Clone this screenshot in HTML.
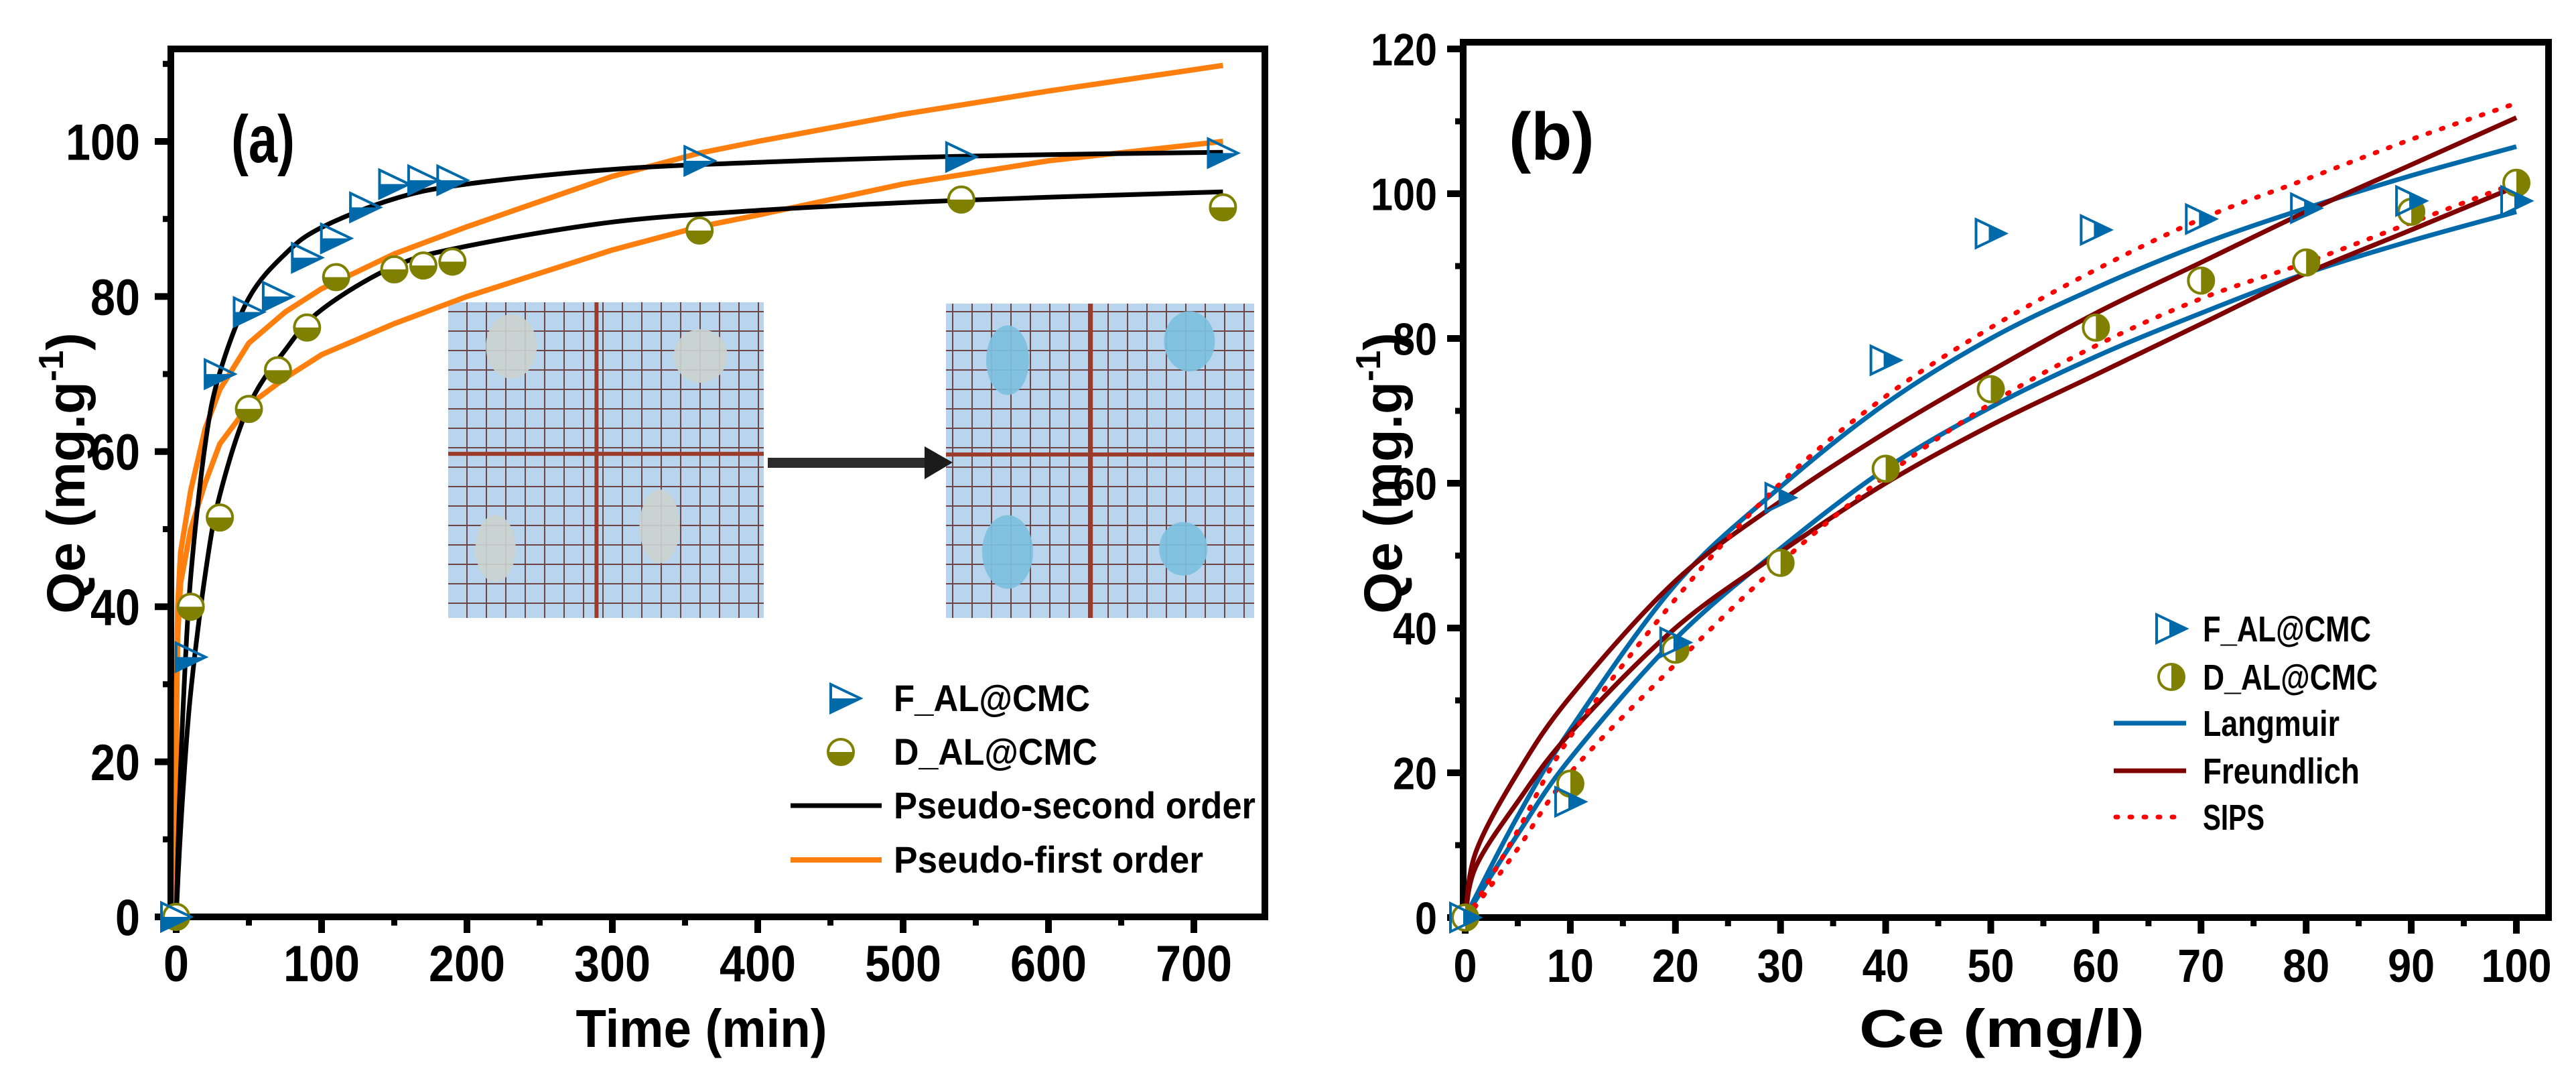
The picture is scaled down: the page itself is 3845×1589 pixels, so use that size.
<!DOCTYPE html>
<html><head><meta charset="utf-8"><style>
html,body{margin:0;padding:0;background:#fff;}
svg{display:block;}
text{font-family:"Liberation Sans",sans-serif;font-weight:bold;fill:#000;}
</style></head><body>
<svg id="fig" width="3845" height="1589" viewBox="0 0 3845 1589" xmlns="http://www.w3.org/2000/svg">
<defs>
<pattern id="grid" width="29" height="29" patternUnits="userSpaceOnUse">
<rect width="29" height="29" fill="#b9d5ee"/>
<path d="M0 0.5H29M0.5 0V29" stroke="#6e4444" stroke-width="3" fill="none"/>
</pattern>
</defs>
<g id="pa"></g>
<g id="pb"></g>
</svg>
<script>
// ---------- Panel (a) data ----------
const timeF = [0,10,30,50,70,90,110,130,150,170,190,360,540,720];
const qeF = [0,33.5,70,78,80,85,87.5,91.5,94.5,95,95,97.5,98,98.5];
const timeD = [0,10,30,50,70,90,110,150,170,190,360,540,720];
const qeD = [0,40,51.5,65.5,70.5,76,82.5,83.5,84,84.5,88.5,92.5,91.5];
const fitTime = [0,2,5,10,20,30,50,75,100,150,200,300,400,500,600,720];
const psoF = [0,13.4,28,43.9,61,70.2,79.8,85.5,88.9,92.6,94.5,96.4,97.3,97.9,98.3,98.6];
const psoD = [0,7.7,17.1,29,44.2,54.4,65.9,73.1,78.3,83.9,86.5,89.6,91.1,92.1,92.8,93.5];
const pfoTime = [0,0.3,1,3,10,20,30,50,75,100,150,200,300,360,400,500,600,720];
const pfoF = [0,30,40,47,55,63,68,74,78,81,85.5,89,95.5,98.5,100,103.5,106.5,109.8];
const pfoD = [0,27,36,43,50,56,61,66,69.5,72.5,76.5,80,86,89,90.5,94.5,97.5,100];
const ticksAX = [0,100,200,300,400,500,600,700];
const ticksAY = [0,20,40,60,80,100];
// ---------- Panel (b) data ----------
const ceF = [0,10,20,30,40,50,60,70,80,90,100];
const qbF = [0,16,38,58,77,94.5,95,96.5,98,99,99];
const ceD = [0,10,20,30,40,50,60,70,80,90,100];
const qbD = [0,18.5,37,49,62,73,81.5,88,90.5,97.5,101.5];
const fitCe = [0,1,5,10,20,30,40,50,60,70,80,90,100];
const langF = [0,2.9,14,26,46,59.5,71,80,87,93,98,102.5,106.5];
const langD = [0,2.4,11.5,22,38.5,51,62,70.5,77.5,83.5,89,93.5,97.5];
const freuF = [0,9,20,30.5,46.5,57.5,67,75.5,83.5,90.5,97.5,104,110.5];
const freuD = [0,7,16,25.5,40,50.5,60,68,75,82,89,95,101];
const sipsF = [0,2,12,25,44,60,72,81.5,89.5,96.5,102,107.5,112.5];
const sipsD = [0,1.6,9.5,20,35,49,61,71,79,85.5,90.5,96,101.5];
const ticksBX = [0,10,20,30,40,50,60,70,80,90,100];
const ticksBY = [0,20,40,60,80,100,120];

const NS="http://www.w3.org/2000/svg";
function mk(tag,attrs,parent){const e=document.createElementNS(NS,tag);for(const k in attrs)e.setAttribute(k,attrs[k]);parent.appendChild(e);return e;}
function pathD(xs,ys,sx,sy){let d='';for(let i=0;i<xs.length;i++){d+=(i?'L':'M')+sx(xs[i]).toFixed(1)+' '+sy(ys[i]).toFixed(1);}return d;}
function smoothD(xs,ys,sx,sy){const p=xs.map((x,i)=>[sx(x),sy(ys[i])]);let d='M'+p[0][0]+' '+p[0][1];for(let i=0;i<p.length-1;i++){const p0=p[Math.max(0,i-1)],p1=p[i],p2=p[i+1],p3=p[Math.min(p.length-1,i+2)];const c1=[p1[0]+(p2[0]-p0[0])/6,p1[1]+(p2[1]-p0[1])/6];const c2=[p2[0]-(p3[0]-p1[0])/6,p2[1]-(p3[1]-p1[1])/6];d+='C'+c1[0].toFixed(1)+' '+c1[1].toFixed(1)+' '+c2[0].toFixed(1)+' '+c2[1].toFixed(1)+' '+p2[0].toFixed(1)+' '+p2[1].toFixed(1);}return d;}
const BLUE='#0069aa',OLIVE='#808000';

function tri(g,cx,cy,mode){
  const w=44,h=42;const x0=cx-w/2,x1=cx+w/2,y0=cy-h/2,y1=cy+h/2;
  const grp=mk('g',{},g);
  
  
  if(mode==='bottom'){mk('polygon',{points:`${x0},${cy} ${x1},${cy} ${x0},${y1}`,fill:BLUE},grp);}
  else{mk('polygon',{points:`${cx-3},${cy-h/4-1.5} ${x1},${cy} ${cx-3},${cy+h/4+1.5}`,fill:BLUE},grp);}
  mk('polygon',{points:`${x0},${y0} ${x1},${cy} ${x0},${y1}`,fill:'none',stroke:BLUE,'stroke-width':4},grp);
}
function circ(g,cx,cy,mode){
  const r=19;const grp=mk('g',{},g);
  
  
  mk('circle',{cx,cy,r,fill:'#fff',stroke:OLIVE,'stroke-width':4},grp);
  if(mode==='bottom')mk('path',{d:`M${cx-r} ${cy}A${r} ${r} 0 0 0 ${cx+r} ${cy}Z`,fill:OLIVE},grp);
  else mk('path',{d:`M${cx} ${cy-r}A${r} ${r} 0 0 1 ${cx} ${cy+r}Z`,fill:OLIVE},grp);
}

function axes(g,o){
  const {L,R,T,B,sx,sy,xt,yt,xminor,yminor,fsX,dwX,fsY,dwY,xlabY,ylabX}=o;
  const ax=mk('g',{},g);
  
  
  xt.forEach(v=>{mk('line',{x1:sx(v),x2:sx(v),y1:B,y2:B+24,stroke:'#000','stroke-width':10},ax);
    const t=mk('text',{x:sx(v),y:xlabY,'text-anchor':'middle','font-size':fsX,textLength:String(v).length*dwX,lengthAdjust:'spacingAndGlyphs'},ax);t.textContent=v;
    
    });
  xminor.forEach(v=>mk('line',{x1:sx(v),x2:sx(v),y1:B,y2:B+13,stroke:'#000','stroke-width':9},ax));
  yt.forEach(v=>{mk('line',{x1:L-24,x2:L,y1:sy(v),y2:sy(v),stroke:'#000','stroke-width':10},ax);
    const t=mk('text',{x:ylabX,y:sy(v)+fsY*0.36,'text-anchor':'end','font-size':fsY,textLength:String(v).length*dwY,lengthAdjust:'spacingAndGlyphs'},ax);t.textContent=v;
    
    });
  yminor.forEach(v=>mk('line',{x1:L-12,x2:L,y1:sy(v),y2:sy(v),stroke:'#000','stroke-width':9},ax));
  const f=mk('rect',{x:L,y:T,width:R-L,height:B-T,fill:'none',stroke:'#000','stroke-width':10},g);
  
  
}

// ===== Panel A =====
(function(){
const g=document.getElementById('pa');
const L=255,R=1888,T=73,B=1368;
const sx=v=>263+v*2.17, sy=v=>1368-v*11.57;
function photo(x,y,w,h,blobColor,blobs,name){
  const pg=mk('g',{},g);
  
  
  mk('rect',{x,y,width:w,height:h,fill:'url(#grid)'},pg);
  mk('line',{x1:x+w*0.47,x2:x+w*0.47,y1:y,y2:y+h,stroke:'#9b3b2a','stroke-width':6},pg);
  mk('line',{x1:x,x2:x+w,y1:y+h*0.48,y2:y+h*0.48,stroke:'#9b3b2a','stroke-width':6},pg);
  blobs.forEach(b=>mk('ellipse',{cx:x+b[0]*w,cy:y+b[1]*h,rx:b[2],ry:b[3],fill:blobColor,opacity:0.92},pg));
}
photo(669,451,471,471,'#c9d3cf',[[0.2,0.14,38,48],[0.8,0.17,40,40],[0.15,0.78,30,50],[0.67,0.71,30,55]],'inset-photo-before');
photo(1412,453,460,469,'#7cc0de',[[0.2,0.18,32,52],[0.79,0.12,38,45],[0.2,0.79,38,55],[0.77,0.78,36,40]],'inset-photo-after');
const ar=mk('g',{},g);


mk('rect',{x:1146,y:683,width:240,height:15,fill:'#2b2b2b'},ar);
mk('polygon',{points:'1380,666 1422,690 1380,715',fill:'#1b1b1b'},ar);
axes(g,{L,R,T,B,sx,sy,xt:ticksAX,yt:ticksAY,xminor:[50,150,250,350,450,550,650],yminor:[10,30,50,70,90,110],fsX:76,dwX:38,fsY:76,dwY:37,xlabY:1464,ylabX:209});
const c1=mk('path',{d:pathD(pfoTime,pfoF,sx,sy),fill:'none',stroke:'#ff7f0e','stroke-width':8},g);


const c2=mk('path',{d:pathD(pfoTime,pfoD,sx,sy),fill:'none',stroke:'#ff7f0e','stroke-width':8},g);


const c3=mk('path',{d:smoothD(fitTime,psoF,sx,sy),fill:'none',stroke:'#000','stroke-width':7},g);


const c4=mk('path',{d:smoothD(fitTime,psoD,sx,sy),fill:'none',stroke:'#000','stroke-width':7},g);


timeD.forEach((t,i)=>circ(g,sx(t),sy(qeD[i]),'bottom'));
timeF.forEach((t,i)=>tri(g,sx(t),sy(qeF[i]),'bottom'));
const lg=mk('g',{},g);


tri(lg,1262,1042,'bottom');circ(lg,1255,1122,'bottom');
mk('line',{x1:1180,x2:1316,y1:1202,y2:1202,stroke:'#000','stroke-width':7},lg);
mk('line',{x1:1180,x2:1316,y1:1283,y2:1283,stroke:'#ff7f0e','stroke-width':8},lg);
[['F_AL@CMC',1061,293],['D_AL@CMC',1141,304],['Pseudo-second order',1221,540],['Pseudo-first order',1302,462]].forEach(a=>{
  const t=mk('text',{x:1334,y:a[1],'font-size':56,textLength:a[2],lengthAdjust:'spacingAndGlyphs'},lg);t.textContent=a[0];
  
  });
const pl=mk('text',{x:345,y:242,'font-size':100,textLength:95,lengthAdjust:'spacingAndGlyphs'},g);pl.textContent='(a)';


const xt=mk('text',{x:1047,y:1562,'text-anchor':'middle','font-size':80,textLength:375,lengthAdjust:'spacingAndGlyphs'},g);xt.textContent='Time (min)';


const yt=mk('text',{x:0,y:0,'text-anchor':'middle','font-size':80,transform:'translate(126,706) rotate(-90)'},g);
yt.innerHTML='Qe (mg.g<tspan dy="-32" font-size="52">-1</tspan><tspan dy="32">)</tspan>';


})();

// ===== Panel B =====
(function(){
const g=document.getElementById('pb');
const L=2184,R=3804,T=63,B=1369;
const sx=v=>2187+v*15.69, sy=v=>1369-v*10.8;
axes(g,{L,R,T,B,sx,sy,xt:ticksBX,yt:ticksBY,xminor:[5,15,25,35,45,55,65,75,85,95],yminor:[10,30,50,70,90,110],fsX:70,dwX:35,fsY:68,dwY:33,xlabY:1465,ylabX:2145});
const curves=[[langF,BLUE,7,null,'langmuir-f'],[langD,BLUE,7,null,'langmuir-d'],[freuF,'#7f0000',7,null,'freundlich-f'],[freuD,'#7f0000',7,null,'freundlich-d'],[sipsF,'#ff0000',7,'3 18','sips-f'],[sipsD,'#ff0000',7,'3 18','sips-d']];
curves.forEach(c=>{const a={d:smoothD(fitCe,c[0],sx,sy),fill:'none',stroke:c[1],'stroke-width':c[2]};if(c[3]){a['stroke-dasharray']=c[3];a['stroke-linecap']='round';}
  const p=mk('path',a,g);
  
  });
ceD.forEach((x,i)=>circ(g,sx(x),sy(qbD[i]),'right'));
ceF.forEach((x,i)=>tri(g,sx(x),sy(qbF[i]),'right'));
const lg=mk('g',{},g);


tri(lg,3241,938,'right');circ(lg,3241,1010,'right');
mk('line',{x1:3155,x2:3263,y1:1079,y2:1079,stroke:BLUE,'stroke-width':7},lg);
mk('line',{x1:3155,x2:3263,y1:1150,y2:1150,stroke:'#7f0000','stroke-width':7},lg);
mk('line',{x1:3158,x2:3263,y1:1219,y2:1219,stroke:'#ff0000','stroke-width':7,'stroke-dasharray':'3 18','stroke-linecap':'round'},lg);
[['F_AL@CMC',938,251],['D_AL@CMC',1010,261],['Langmuir',1079,204],['Freundlich',1150,234],['SIPS',1219,92]].forEach(a=>{
  const t=mk('text',{x:3288,y:a[1]+19,'font-size':54,textLength:a[2],lengthAdjust:'spacingAndGlyphs'},lg);t.textContent=a[0];
  
  });
const pl=mk('text',{x:2252,y:238,'font-size':100},g);pl.textContent='(b)';
pl.setAttribute('font-family','Liberation Serif, serif');


const xt=mk('text',{x:2988,y:1562,'text-anchor':'middle','font-size':80,textLength:426,lengthAdjust:'spacingAndGlyphs'},g);xt.textContent='Ce (mg/l)';


const yt=mk('text',{x:0,y:0,'text-anchor':'middle','font-size':80,transform:'translate(2092,706) rotate(-90)'},g);
yt.innerHTML='Qe (mg.g<tspan dy="-32" font-size="52">-1</tspan><tspan dy="32">)</tspan>';


})();
</script>
</body></html>
